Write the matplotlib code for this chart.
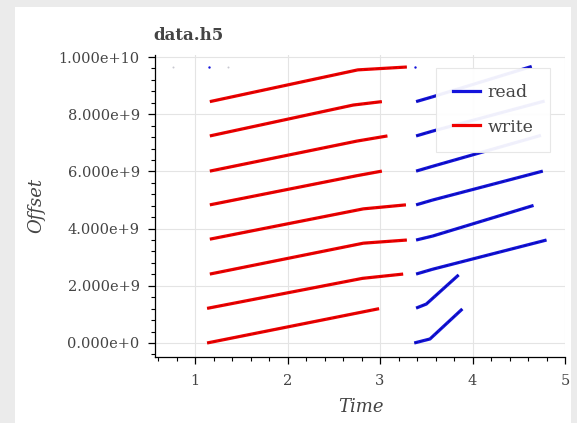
import matplotlib
matplotlib.use("Agg")
import matplotlib.pyplot as plt
from matplotlib.ticker import MultipleLocator, FuncFormatter
from matplotlib.patches import Rectangle
from matplotlib.lines import Line2D

# ---- data (time, offset) ----
write_t = [
    [1.13, 2.99],
    [1.13, 2.81, 3.25],
    [1.16, 2.82, 3.29],
    [1.16, 2.82, 3.28],
    [1.16, 2.75, 3.02],
    [1.16, 2.75, 3.08],
    [1.16, 2.71, 3.02],
    [1.16, 2.76, 3.29],
]
write_off = [
    [0.00e9, 1.20e9],
    [1.21e9, 2.26e9, 2.41e9],
    [2.41e9, 3.49e9, 3.60e9],
    [3.63e9, 4.69e9, 4.83e9],
    [4.83e9, 5.85e9, 6.01e9],
    [6.01e9, 7.06e9, 7.24e9],
    [7.24e9, 8.32e9, 8.44e9],
    [8.44e9, 9.55e9, 9.65e9],
]
read_t = [
    [3.37, 3.54, 3.89],
    [3.39, 3.50, 3.85],
    [3.39, 3.57, 4.80],
    [3.39, 3.57, 4.66],
    [3.39, 3.57, 4.76],
    [3.39, 3.57, 4.74],
    [3.39, 3.57, 4.78],
    [3.39, 3.57, 4.64],
]
read_off = [
    [0.00e9, 0.14e9, 1.19e9],
    [1.22e9, 1.36e9, 2.38e9],
    [2.41e9, 2.58e9, 3.60e9],
    [3.60e9, 3.74e9, 4.81e9],
    [4.83e9, 5.00e9, 6.01e9],
    [6.01e9, 6.18e9, 7.26e9],
    [7.24e9, 7.41e9, 8.46e9],
    [8.44e9, 8.61e9, 9.67e9],
]
read_dot_t = [1.15, 3.38]
read_dot_off = [9.65e9, 9.65e9]
other_dot_t = [0.76, 1.36]
other_dot_off = [9.65e9, 9.65e9]

title = "data.h5"
xlabel = "Time"
ylabel = "Offset"

W, H = 577, 423
fig = plt.figure(figsize=(W / 100, H / 100), dpi=100)
fig.patch.set_facecolor("#ebebeb")
fig.patches.append(Rectangle((15 / W, 0), (571 - 15) / W, (H - 7) / H,
                             transform=fig.transFigure, facecolor="white",
                             edgecolor="none", zorder=-10))

L, R, T, B = 155, 565, 55, 357
ax = fig.add_axes([L / W, (H - B) / H, (R - L) / W, (B - T) / H])
ax.set_zorder(1)
ax.set_facecolor("white")

serif = "DejaVu Serif"
txtc = "#444444"

RED, REDC = "#f00000", "#9a0000"
BLUE, BLUEC = "#1414dc", "#000070"
for t, o in zip(write_t, write_off):
    ax.plot(t, o, color=RED, lw=2.3, solid_capstyle="butt", zorder=3)
    ax.plot(t, o, color=REDC, lw=0.7, ls=(0, (4, 2)), alpha=0.5, zorder=4)
for t, o in zip(read_t, read_off):
    ax.plot(t, o, color=BLUE, lw=2.3, solid_capstyle="butt", zorder=3)
    ax.plot(t, o, color=BLUEC, lw=0.7, ls=(0, (4, 2)), alpha=0.5, zorder=4)
ax.scatter(read_dot_t, read_dot_off, s=3, color=BLUE, zorder=4, linewidths=0)
ax.scatter(other_dot_t, other_dot_off, s=2, color="#c8c8d0", zorder=4, linewidths=0)

ax.set_xlim(0.567, 5.0)
ax.set_ylim(-0.49e9, 10.07e9)

ax.xaxis.set_major_locator(MultipleLocator(1))
ax.xaxis.set_minor_locator(MultipleLocator(0.2))
ax.yaxis.set_major_locator(MultipleLocator(2e9))
ax.yaxis.set_minor_locator(MultipleLocator(0.4e9))

def yfmt(v, pos):
    s = f"{v:.3e}"
    mant, exp = s.split("e")
    sign = exp[0]
    num = str(int(exp[1:]))
    return f"{mant}e{sign}{num}"

ax.yaxis.set_major_formatter(FuncFormatter(yfmt))
ax.xaxis.set_major_formatter(FuncFormatter(lambda v, p: f"{int(round(v))}"))

ax.grid(True, which="major", color="#e4e4e4", lw=0.8, zorder=0)
ax.set_axisbelow(True)
for s in ["top", "right"]:
    ax.spines[s].set_visible(False)
for s in ["left", "bottom"]:
    ax.spines[s].set_color("black")
    ax.spines[s].set_linewidth(0.9)

ax.tick_params(which="major", direction="out", length=5, width=0.9, color="black",
               labelsize=10.5, labelcolor=txtc)
ax.tick_params(which="minor", direction="out", length=3.2, width=0.8, color="black")
ax.tick_params(axis="y", which="major", pad=6)
ax.tick_params(axis="x", which="major", pad=7)
for lab in ax.get_xticklabels() + ax.get_yticklabels():
    lab.set_family(serif)

fig.text(153 / W, 1 - 35 / H, title, family=serif, weight="bold", fontsize=12,
         color=txtc, ha="left", va="center")
fig.text(36 / W, 1 - 205 / H, ylabel, family=serif, style="italic", fontsize=13,
         color=txtc, ha="center", va="center", rotation=90)
fig.text(361 / W, 1 - 407 / H, xlabel, family=serif, style="italic", fontsize=13,
         color=txtc, ha="center", va="center")

handles = [Line2D([], [], color=BLUE, lw=2.3), Line2D([], [], color=RED, lw=2.3)]
leg = ax.legend(handles, ["read", "write"], loc="upper right",
                bbox_to_anchor=((550 - L) / (R - L), (B - 68) / (B - T)),
                prop={"family": serif, "size": 12.5}, frameon=True,
                handlelength=1.55, handletextpad=0.45, labelspacing=0.98,
                borderpad=0.95, fancybox=False, borderaxespad=0)
leg.get_frame().set_facecolor("white")
leg.get_frame().set_alpha(0.94)
leg.get_frame().set_edgecolor("#e6e6e6")
leg.get_frame().set_linewidth(0.8)
for t in leg.get_texts():
    t.set_color(txtc)
leg.set_zorder(5)

fig.savefig("out.png", dpi=100, facecolor=fig.get_facecolor())
